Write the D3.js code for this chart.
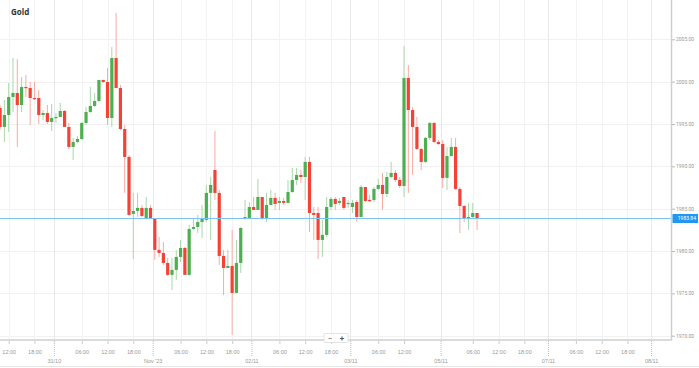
<!DOCTYPE html>
<html><head><meta charset="utf-8">
<script src="https://cdn.jsdelivr.net/npm/d3@7"></script>
<style>body{margin:0;background:#fff;} svg{display:block;font-family:Roboto,"Open Sans",sans-serif;}</style>
</head><body><svg id="c" width="699" height="368"></svg>
<script>
const title = "Gold";
const firstCandle = "2023-10-30T10:00Z";
const lastPrice = 1983.84;
const open = [1996.89,1994.65,1996.06,1998.19,1998.66,1997.24,1999.37,1999.25,1998.07,1998.07,
1996.06,1996.30,1995.24,1995.71,1995.83,1996.54,1994.65,1992.29,1992.88,1993.23,
1995.12,1996.42,1997.13,1997.72,2000.20,1999.96,1995.71,2002.79,1999.25,1994.41,
1991.11,1984.38,1984.73,1985.09,1983.90,1985.09,1983.90,1980.13,1979.77,1978.59,
1977.18,1977.77,1979.30,1980.36,1977.18,1982.61,1982.84,1983.43,1983.67,1986.86,
1989.57,1986.86,1979.42,1978.00,1978.24,1975.05,1978.59,1983.90,1983.90,1985.20,
1984.85,1986.38,1983.90,1985.44,1986.27,1985.68,1985.91,1985.68,1986.97,1988.39,
1988.98,1988.74,1990.52,1984.49,1984.49,1981.31,1981.90,1985.20,1986.15,1985.68,
1986.38,1985.56,1985.20,1985.79,1984.02,1987.56,1986.03,1986.03,1987.33,1987.80,
1986.74,1988.74,1989.22,1988.39,1987.68,2000.43,1996.65,1994.65,1992.05,1990.52,
1993.35,1995.12,1992.88,1992.64,1988.63,1991.22,1992.29,1987.33,1985.32,1983.90,
1984.02,1984.49];
const close = [1994.65,1996.06,1998.19,1998.66,1997.24,1999.37,1999.25,1998.07,1997.95,1996.06,
1996.30,1995.24,1995.71,1995.83,1996.54,1994.65,1992.29,1992.88,1993.23,1995.12,
1996.42,1997.13,1997.72,2000.20,1999.96,1995.71,2002.79,1999.25,1994.41,1991.11,
1984.26,1984.73,1985.09,1984.14,1985.09,1983.90,1980.13,1979.77,1978.59,1977.18,
1977.77,1979.30,1980.36,1977.18,1982.61,1982.84,1983.43,1983.79,1986.86,1987.80,
1986.86,1979.42,1978.00,1978.24,1975.05,1978.59,1982.72,1984.02,1985.20,1984.85,
1986.38,1983.90,1985.44,1986.27,1985.56,1985.91,1985.68,1986.97,1988.39,1988.98,
1988.74,1990.52,1984.49,1984.26,1981.31,1981.90,1985.20,1986.15,1985.56,1985.91,
1985.09,1985.68,1985.68,1984.02,1987.56,1985.91,1985.91,1987.33,1987.80,1986.74,
1988.74,1989.22,1988.39,1987.68,2000.43,1996.65,1994.65,1992.05,1990.52,1993.35,
1995.12,1992.88,1992.64,1988.63,1991.22,1992.29,1987.33,1985.32,1983.90,1984.02,
1984.49,1983.84];
const high = [1997.24,1997.83,1999.84,2002.79,2002.67,2000.55,2000.79,1999.96,1999.96,1999.01,
1996.65,1997.24,1997.36,1996.30,1997.48,1996.65,1995.12,1993.35,1993.58,1995.24,
1997.01,1999.37,1998.66,2000.20,2000.20,2001.61,2004.09,2008.10,1999.61,1994.88,
1991.34,1986.86,1986.86,1985.44,1986.38,1985.44,1983.90,1981.66,1981.07,1979.18,
1979.18,1980.13,1981.31,1980.48,1983.08,1983.90,1984.26,1985.44,1987.80,1988.74,
1994.17,1987.21,1980.13,1980.13,1982.49,1981.31,1982.84,1986.03,1985.79,1986.38,
1988.51,1986.38,1986.86,1987.21,1986.86,1986.38,1986.27,1988.39,1989.81,1989.81,
1989.57,1991.11,1991.11,1985.20,1985.20,1983.67,1986.38,1986.38,1986.38,1986.27,
1986.38,1986.03,1986.03,1986.03,1987.80,1987.56,1986.62,1987.56,1988.51,1989.22,
1989.33,1990.52,1989.57,1988.74,2004.21,2001.97,1997.01,1995.83,1992.17,1993.47,
1995.24,1995.24,1993.11,1993.11,1992.29,1993.35,1993.35,1987.56,1985.44,1985.68,
1985.68,1984.49];
const low = [1994.29,1992.88,1994.06,1996.42,1992.29,1996.42,1998.19,1994.88,1997.83,1995.00,
1995.47,1995.00,1994.17,1995.12,1995.83,1994.65,1992.05,1990.75,1992.76,1993.11,
1994.88,1996.30,1997.01,1997.60,1999.84,1994.88,1994.65,1999.25,1994.29,1986.86,
1984.14,1979.06,1984.02,1984.02,1983.90,1983.90,1978.95,1979.30,1978.36,1977.06,
1975.40,1976.59,1978.71,1977.18,1977.06,1982.49,1982.13,1981.54,1983.43,1981.31,
1986.03,1978.36,1974.81,1978.00,1970.09,1975.05,1977.41,1983.67,1983.90,1984.85,
1984.85,1983.67,1983.43,1985.44,1984.85,1984.85,1985.44,1985.68,1986.86,1987.80,
1988.04,1986.03,1982.25,1981.31,1979.06,1979.30,1981.66,1984.85,1984.85,1985.44,
1984.85,1985.09,1984.49,1983.43,1984.02,1985.79,1985.79,1985.79,1987.21,1984.85,
1986.38,1988.63,1988.15,1987.45,1986.38,1986.86,1988.98,1991.93,1989.57,1990.40,
1993.11,1992.76,1992.52,1987.45,1987.21,1991.11,1987.21,1982.13,1983.43,1982.49,
1983.90,1982.49];
const yTicks = [2005,2000,1995,1990,1985,1980,1975,1970];
const hourTicks = ["2023-10-30T12:00Z","2023-10-30T18:00Z",
 "2023-10-31T06:00Z","2023-10-31T12:00Z","2023-10-31T18:00Z",
 "2023-11-01T06:00Z","2023-11-01T12:00Z","2023-11-01T18:00Z",
 "2023-11-02T06:00Z","2023-11-02T12:00Z","2023-11-02T18:00Z",
 "2023-11-03T06:00Z","2023-11-03T12:00Z",
 "2023-11-06T06:00Z","2023-11-06T12:00Z","2023-11-06T18:00Z",
 "2023-11-07T06:00Z","2023-11-07T12:00Z","2023-11-07T18:00Z"];
const dateTickDays = ["2023-10-31","2023-11-01","2023-11-02","2023-11-03","2023-11-05","2023-11-07","2023-11-08"];
const dateTickLabels = ["31/10","Nov '23","02/11","03/11","05/11","07/11","08/11"];

const W = 699, Hh = 368;
const plot = {left:0, right:671.5, top:0, bottom:340};
const HOUR = 3600e3;

// trading-hour timeline (daily break at 21:00, weekend Fri 21:00 -> Sun 23:00)
function nextSession(t){
  let n = t + HOUR; const d = new Date(n);
  if (d.getUTCDay()===5 && d.getUTCHours()>=21) n = Date.UTC(d.getUTCFullYear(), d.getUTCMonth(), d.getUTCDate()+2, 23);
  else if (d.getUTCHours()===21) n += HOUR;
  return n;
}
const times = []; { let t = Date.parse(firstCandle); for (let i=0;i<open.length;i++){ times.push(t); t = nextSession(t);} }
function slotOf(ms){
  const last = times[times.length-1];
  if (ms > last) return times.length-1 + (ms-last)/HOUR;
  return times.findIndex(x=>x>=ms);
}
const candles = open.map((o,i)=>({i, o, h:high[i], l:low[i], c:close[i]}));

const x = d3.scaleLinear().domain([-0.025, 156.25]).range([plot.left, plot.right]);
const y = d3.scaleLinear().domain([1970, 2005]).range([335.7, 39.3]);
const step = x(1)-x(0);

const svg = d3.select("#c");
svg.append("rect").attr("width",W).attr("height",Hh).attr("fill","#fff");
svg.append("defs").append("clipPath").attr("id","clip").append("rect")
  .attr("x",plot.left).attr("y",plot.top).attr("width",plot.right-plot.left).attr("height",plot.bottom-plot.top);

const hourSlots = hourTicks.map(s=>slotOf(Date.parse(s)));
const dateSlots = dateTickDays.map(s=>slotOf(Date.parse(s+"T00:00Z"))-0.5);

// grid
const grid = svg.append("g");
grid.selectAll(".hg").data(yTicks).join("line")
  .attr("x1",plot.left).attr("x2",plot.right).attr("y1",d=>Math.round(y(d))+0.5).attr("y2",d=>Math.round(y(d))+0.5)
  .attr("stroke","#f1f1f1");
grid.selectAll(".vg").data(hourSlots).join("line")
  .attr("x1",d=>Math.round(x(d))+0.5).attr("x2",d=>Math.round(x(d))+0.5).attr("y1",plot.top).attr("y2",plot.bottom)
  .attr("stroke","#f3f3f3");
grid.selectAll(".dg").data(dateSlots).join("line")
  .attr("x1",d=>Math.round(x(d))+0.5).attr("x2",d=>Math.round(x(d))+0.5).attr("y1",plot.top).attr("y2",plot.bottom)
  .attr("stroke","#e9e9e9");

// candles
const cg = svg.append("g").attr("clip-path","url(#clip)");
const up = "#4caf50", dn = "#f44336", upW = "#a9d8ab", dnW = "#f9aaa4";
cg.selectAll(".wick").data(candles).join("line")
  .attr("x1",d=>x(d.i)).attr("x2",d=>x(d.i)).attr("y1",d=>y(d.h)).attr("y2",d=>y(d.l))
  .attr("stroke",d=>d.c>=d.o?upW:dnW).attr("stroke-width",1);
cg.selectAll(".body").data(candles).join("rect")
  .attr("x",d=>x(d.i)-1.6).attr("width",3.2)
  .attr("y",d=>y(Math.max(d.o,d.c)))
  .attr("height",d=>Math.max(1.2, Math.abs(y(d.o)-y(d.c))))
  .attr("fill",d=>d.c>=d.o?up:dn);

// current price line
svg.append("line").attr("x1",plot.left).attr("x2",plot.right)
  .attr("y1",y(lastPrice)).attr("y2",y(lastPrice)).attr("stroke","#7cc4f4").attr("stroke-width",1);

// frame
svg.append("line").attr("x1",plot.right).attr("x2",plot.right).attr("y1",0).attr("y2",plot.bottom+0.5)
  .attr("stroke","#cfcfcf").attr("stroke-width",1.5);
svg.append("line").attr("x1",plot.left).attr("x2",plot.right).attr("y1",plot.bottom).attr("y2",plot.bottom)
  .attr("stroke","#cfcfcf").attr("stroke-width",1.5);

// y axis
const yAxis = svg.append("g").attr("transform",`translate(${plot.right+0.5},0)`)
  .call(d3.axisRight(y).tickValues(yTicks).tickFormat(d3.format(".2f")).tickSize(3).tickPadding(1));
yAxis.select(".domain").remove();
yAxis.selectAll("line").attr("stroke","#bbb");
yAxis.selectAll("text").attr("fill","#999").attr("font-size","5px").attr("font-family","Roboto,sans-serif");

// price label
const pl = svg.append("g").attr("transform",`translate(${plot.right+1},${y(lastPrice)})`);
pl.append("rect").attr("x",0).attr("y",-4.5).attr("width",25.5).attr("height",9).attr("fill","#2196f3");
pl.append("text").attr("x",23.5).attr("y",0).attr("dy","0.35em").attr("text-anchor","end")
  .attr("fill","#fff").attr("font-size","5px").text(d3.format(".2f")(lastPrice));

// x axis hours
const xh = svg.append("g").attr("transform",`translate(0,${plot.bottom+1})`)
  .call(d3.axisBottom(x).tickValues(hourSlots).tickFormat((d,i)=>d3.utcFormat("%H:%M")(new Date(Date.parse(hourTicks[i])))).tickSize(3).tickPadding(6));
xh.select(".domain").remove();
xh.selectAll("line").attr("stroke","#ccc");
xh.selectAll("text").attr("fill","#999").attr("font-size","5.5px");

// x axis dates
const xd = svg.append("g").attr("transform",`translate(0,${plot.bottom+1})`)
  .call(d3.axisBottom(x).tickValues(dateSlots).tickFormat((d,i)=>dateTickLabels[i]).tickSize(16).tickPadding(2));
xd.select(".domain").remove();
xd.selectAll("line").attr("stroke","#bbb").attr("stroke-dasharray","1,1");
xd.selectAll("text").attr("fill","#999").attr("font-size","5.5px");

// bottom rule
svg.append("line").attr("x1",0).attr("x2",W).attr("y1",366.5).attr("y2",366.5).attr("stroke","#e6e6e6");

// zoom buttons
const zb = svg.append("g").attr("transform","translate(324,333.5)");
zb.append("rect").attr("width",24).attr("height",9).attr("rx",1).attr("fill","#fff").attr("stroke","#e3e3e3");
zb.append("text").attr("x",6).attr("y",4.5).attr("dy","0.35em").attr("text-anchor","middle").attr("font-size","8px").attr("fill","#555").text("−");
zb.append("text").attr("x",18).attr("y",4.5).attr("dy","0.35em").attr("text-anchor","middle").attr("font-size","8px").attr("font-weight","bold").attr("fill","#555").text("+");

// title
svg.append("text").attr("x",11).attr("y",15).attr("font-size","8px").attr("font-weight","bold")
  .attr("fill","#333").attr("font-family","'Open Sans',Roboto,sans-serif").text(title);
</script></body></html>
